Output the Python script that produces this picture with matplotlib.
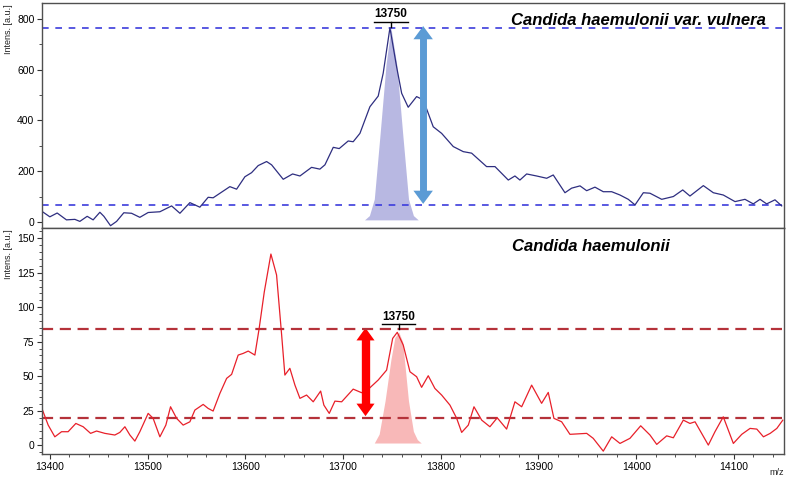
import matplotlib.pyplot as plt
from matplotlib.patches import FancyArrowPatch
from matplotlib.ticker import MultipleLocator

plt.rcParams['font.family'] = ['Liberation Sans', 'DejaVu Sans']

# top spectrum: Candida haemulonii var. vulnera
top_mz = [13392.5, 13400, 13407.5, 13417, 13425.6, 13430.7, 13438.2, 13444.3, 13451.2, 13455.3,
          13462.1, 13468.3, 13475.7, 13483.6, 13492.1, 13500.6, 13512.6, 13524.6, 13533.1, 13543.3,
          13553.5, 13562, 13567.1, 13584.2, 13591.1, 13599.6, 13606.4, 13613.2, 13621.8, 13626.9,
          13638.8, 13648.4, 13655.9, 13667.8, 13676.3, 13681.5, 13690, 13696.1, 13705.3, 13710.4,
          13717.3, 13727.5, 13736, 13741.1, 13748, 13754.8, 13760, 13766.7, 13775.3, 13782.1,
          13792.3, 13800.9, 13812.8, 13823, 13831.6, 13846.9, 13855.5, 13869.1, 13875.9, 13881,
          13887.9, 13898.1, 13908.4, 13915.1, 13927.1, 13933.9, 13942.5, 13949.3, 13957.8, 13966.3,
          13974.9, 13983.4, 13991.9, 13998.8, 14007.3, 14014.1, 14026.1, 14038, 14047.6, 14055,
          14068.7, 14078.9, 14089.1, 14101.1, 14111.3, 14119.8, 14126.7, 14133.5, 14142, 14148.9]
top_int = [40, 20, 35, 8, 10, 2, 22, 8, 38, 22,
           -15, 2, 36, 34, 18, 37, 40, 63, 34, 76,
           58, 97, 95, 139, 129, 178, 194, 222, 238, 225,
           168, 189, 181, 215, 208, 225, 294, 289, 319, 316,
           349, 454, 496, 586, 765, 612, 507, 452, 494, 481,
           375, 349, 297, 277, 271, 218, 218, 165, 181, 165,
           189, 181, 172, 185, 115, 133, 142, 123, 137, 119,
           119, 106, 89, 67, 115, 113, 89, 100, 126, 102,
           143, 115, 106, 80, 89, 71, 89, 71, 87, 63]

# bottom spectrum: Candida haemulonii
bot_mz = [13392.5, 13398.3, 13405.1, 13412, 13418.7, 13426.6, 13434.1, 13441.7, 13447.8, 13456.3,
          13466.5, 13471.6, 13476.8, 13481.9, 13487, 13492.1, 13500.6, 13505.7, 13512.6, 13518.7,
          13523.5, 13529.7, 13536.4, 13543.3, 13548.4, 13556.9, 13562, 13567.1, 13574, 13580.9,
          13586, 13592.7, 13597.8, 13603, 13609.8, 13614.2, 13619.4, 13626.2, 13632, 13637.2,
          13640.5, 13645.6, 13650.8, 13655.9, 13662.7, 13669.5, 13677.1, 13680.4, 13685.9, 13691.7,
          13698.6, 13710.4, 13719, 13727.5, 13736, 13744.6, 13750.8, 13755.5, 13761.6, 13768.5,
          13775.3, 13780.4, 13787.2, 13794, 13800.9, 13809.4, 13816.3, 13821.4, 13828.2, 13834,
          13841.9, 13850.3, 13857.8, 13867.4, 13875.9, 13882.8, 13893, 13903.2, 13910, 13915.8,
          13923.7, 13932.2, 13949.3, 13956, 13966.3, 13974.9, 13983.4, 13993.6, 14004.6, 14014.1,
          14021, 14031.2, 14038, 14048.2, 14055, 14060.2, 14073.8, 14080.6, 14089.1, 14099.4,
          14108, 14116.5, 14123.4, 14130.2, 14137.1, 14143.9, 14150]
bot_int = [25.4, 14.5, 6, 9.7, 9.7, 15.7, 13.3, 8.5, 10.2, 8.5,
           7.3, 9.2, 13.3, 7.3, 2.9, 9.7, 23, 19.4, 6, 14.5,
           27.8, 19.4, 14.5, 16.9, 25.4, 29.5, 26.6, 24.7, 37.5, 48.4,
           51.3, 65.3, 66.5, 68.2, 65.3, 84.7, 111, 138.6, 123.4, 79.8,
           50.8, 55.7, 43.5, 33.9, 36.3, 31.4, 39.2, 29, 23, 31.9,
           31.4, 40.6, 38, 41.6, 47.2, 54.4, 77.4, 81.8, 72.6, 53.2,
           49.6, 41.9, 50.3, 41.1, 36.3, 29, 19.4, 9.2, 14.5, 27.8,
           18.1, 13.3, 19.8, 11.6, 31.4, 27.8, 43.5, 30.3, 38.2, 19.4,
           16.9, 7.8, 8.5, 4.9, -4.4, 6, 1.2, 4.9, 14, 7.3,
           0.5, 6.7, 5.3, 18.1, 15.7, 16.9, 0, 9.7, 20.5, 1.2,
           7.8, 12.1, 11.6, 6, 8.5, 12.1, 18.1]

# highlighted 13750 peaks
top_peak_mz = [13722, 13727, 13732, 13738, 13744, 13749, 13755, 13761, 13767, 13772, 13777]
top_peak_int = [8, 25, 90, 350, 620, 765, 620, 350, 90, 25, 8]
bot_peak_mz = [13732, 13737, 13743, 13749, 13753, 13757, 13761, 13767, 13772, 13776, 13780]
bot_peak_int = [1.5, 8, 32, 62, 78, 82, 75, 32, 10, 4, 1.5]

top_levels = [765, 67]
bot_levels = [84, 20]
top_arrow_x, top_arrow = 13782, (71, 772)
bot_arrow_x, bot_arrow = 13723, (21, 85)
peak_label = "13750"

fig = plt.figure(figsize=(7.87, 4.82), dpi=100)
ax1 = fig.add_axes([0.0534, 0.527, 0.9425, 0.4668])
ax2 = fig.add_axes([0.0534, 0.058, 0.9425, 0.469])

for ax in (ax1, ax2):
    ax.set_xlim(13392, 14151)
    for s in ax.spines.values():
        s.set_color('#505050')
        s.set_linewidth(1.0)
    ax.tick_params(axis='both', which='major', labelsize=7.5, length=3.5, color='#333333', pad=2)
    ax.tick_params(axis='both', which='minor', length=2, color='#333333')
    ax.set_ylabel("Intens. [a.u.]", fontsize=6.5, loc='top', color='#222222')
    ax.yaxis.set_label_coords(-0.039, 0.995)

# --- top panel ---
ax1.set_ylim(-24, 863)
ax1.fill_between(top_peak_mz, 8, top_peak_int, color='#b8b8e2', lw=0)
for lv in top_levels:
    ax1.axhline(lv, color='#3c3cdc', lw=1.2, ls=(0, (4, 4)))
ax1.plot(top_mz, top_int, color='#2e2e80', lw=0.9)
ax1.yaxis.set_major_locator(MultipleLocator(200))
ax1.yaxis.set_minor_locator(MultipleLocator(100))
ax1.tick_params(axis='x', which='both', bottom=False, labelbottom=False)
ax1.add_patch(FancyArrowPatch((top_arrow_x, top_arrow[0]), (top_arrow_x, top_arrow[1]),
                              lw=0, color='#5b9bd5', shrinkA=0, shrinkB=0,
                              arrowstyle='<|-|>,head_width=0.7,head_length=0.95',
                              mutation_scale=10))
ax1.plot([top_arrow_x, top_arrow_x], [top_arrow[0] + 40, top_arrow[1] - 40],
         color='#5b9bd5', lw=5, solid_capstyle='butt')
ax1.text(13749, 796, peak_label, ha='center', va='bottom', fontsize=8.5, fontweight='bold')
ax1.plot([13732, 13766], [790, 790], color='black', lw=1)
ax1.plot([13749, 13749], [790, 770], color='black', lw=1)
ax1.text(14133, 792, "Candida haemulonii var. vulnera", ha='right', va='center',
         fontsize=12, fontweight='bold', fontstyle='italic')

# --- bottom panel ---
ax2.set_ylim(-6.5, 157.5)
ax2.fill_between(bot_peak_mz, 1.5, bot_peak_int, color='#f8b8b8', lw=0)
for lv in bot_levels:
    ax2.axhline(lv, color='#b5323a', lw=1.6, ls=(0, (5, 3)))
ax2.plot(bot_mz, bot_int, color='#e8202a', lw=0.9)
ax2.yaxis.set_major_locator(MultipleLocator(25))
ax2.yaxis.set_minor_locator(MultipleLocator(5))
ax2.xaxis.set_major_locator(MultipleLocator(100))
ax2.xaxis.set_minor_locator(MultipleLocator(20))
ax2.add_patch(FancyArrowPatch((bot_arrow_x, bot_arrow[0]), (bot_arrow_x, bot_arrow[1]),
                              lw=0, color='#ff0000', shrinkA=0, shrinkB=0,
                              arrowstyle='<|-|>,head_width=0.65,head_length=0.9',
                              mutation_scale=10))
ax2.plot([bot_arrow_x, bot_arrow_x], [bot_arrow[0] + 5, bot_arrow[1] - 5],
         color='#ff0000', lw=6, solid_capstyle='butt')
ax2.text(13757, 88.3, peak_label, ha='center', va='bottom', fontsize=8.5, fontweight='bold')
ax2.plot([13740, 13774], [87.5, 87.5], color='black', lw=1)
ax2.plot([13757, 13757], [87.5, 84], color='black', lw=1)
ax2.text(13954, 144, "Candida haemulonii", ha='center', va='center',
         fontsize=12, fontweight='bold', fontstyle='italic')
ax2.set_xlabel("m/z", fontsize=6.5, color='#222222')
ax2.xaxis.set_label_coords(0.99, -0.06)

fig.savefig("out.png", dpi=100)
